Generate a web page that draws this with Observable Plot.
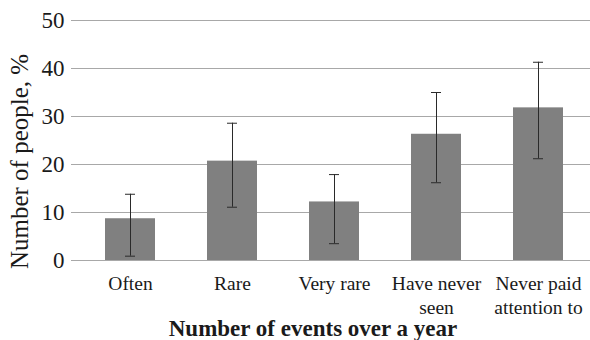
<!DOCTYPE html>
<html>
<head>
<meta charset="utf-8">
<script src="https://cdn.jsdelivr.net/npm/d3@7"></script>
<script src="https://cdn.jsdelivr.net/npm/@observablehq/plot@0.6"></script>
<style>
  html, body { margin: 0; padding: 0; background: white; }
  svg, svg text { font-family: "Liberation Serif", "Times New Roman", serif !important; }
</style>
</head>
<body>
<div id="chart"></div>
<script>
const categories = ["Often", "Rare", "Very rare", "Have never seen", "Never paid attention to"];
const tickLabels = ["Often", "Rare", "Very rare", "Have never\nseen", "Never paid\nattention to"];
const values = [8.7, 20.7, 12.2, 26.3, 31.8];
const errLow = [0.9, 11.1, 3.5, 16.2, 21.2];
const errHigh = [13.8, 28.6, 17.9, 35.0, 41.3];
const yTicks = [0, 10, 20, 30, 40, 50];
const yTitle = "Number of people, %";
const xTitle = "Number of events over a year";

const serif = "Liberation Serif";
const data = categories.map((c, i) => ({cat: c, v: values[i], lo: errLow[i], hi: errHigh[i], label: tickLabels[i]}));

const chart = Plot.plot({
  width: 590,
  height: 340,
  marginLeft: 77,
  marginRight: 0,
  marginTop: 20,
  marginBottom: 80,
  style: {fontFamily: serif, background: "white", color: "#1a1a1a"},
  x: {domain: categories, paddingInner: 0.514, paddingOuter: 0.257, axis: null},
  y: {domain: [0, 50], axis: null},
  marks: [
    Plot.ruleY(yTicks, {stroke: "#a8a8a8", strokeWidth: 1.2}),
    Plot.ruleX([0], {frameAnchor: "left", stroke: "#a8a8a8", strokeWidth: 1.2}),
    Plot.barY(data, {x: "cat", y: "v", fill: "#808080"}),
    Plot.ruleX(data, {x: "cat", y1: "lo", y2: "hi", stroke: "#2a2a2a", strokeWidth: 1}),
    Plot.tickY(data, {x: "cat", y: "lo", stroke: "#2a2a2a", strokeWidth: 1, inset: 20}),
    Plot.tickY(data, {x: "cat", y: "hi", stroke: "#2a2a2a", strokeWidth: 1, inset: 20}),
    Plot.axisY({ticks: yTicks, tickSize: 6, tickPadding: 7, stroke: "#a8a8a8", fill: "#1a1a1a", fontSize: 23, fontFamily: serif, label: null}),
    Plot.text(data, {x: "cat", text: "label", frameAnchor: "bottom", lineAnchor: "top", dy: 13, fontSize: 19.5, lineHeight: 1.2, fontFamily: serif, fill: "#1a1a1a"}),
    Plot.text([yTitle], {frameAnchor: "left", textAnchor: "middle", rotate: -90, dx: -58, dy: 21, fontSize: 25, fontFamily: serif, fill: "#1a1a1a"}),
    Plot.text([xTitle], {frameAnchor: "bottom", dx: -21, dy: 75, fontSize: 23, fontWeight: "bold", fontFamily: serif, fill: "#1a1a1a"})
  ]
});
document.getElementById("chart").appendChild(chart);
</script>
</body>
</html>
